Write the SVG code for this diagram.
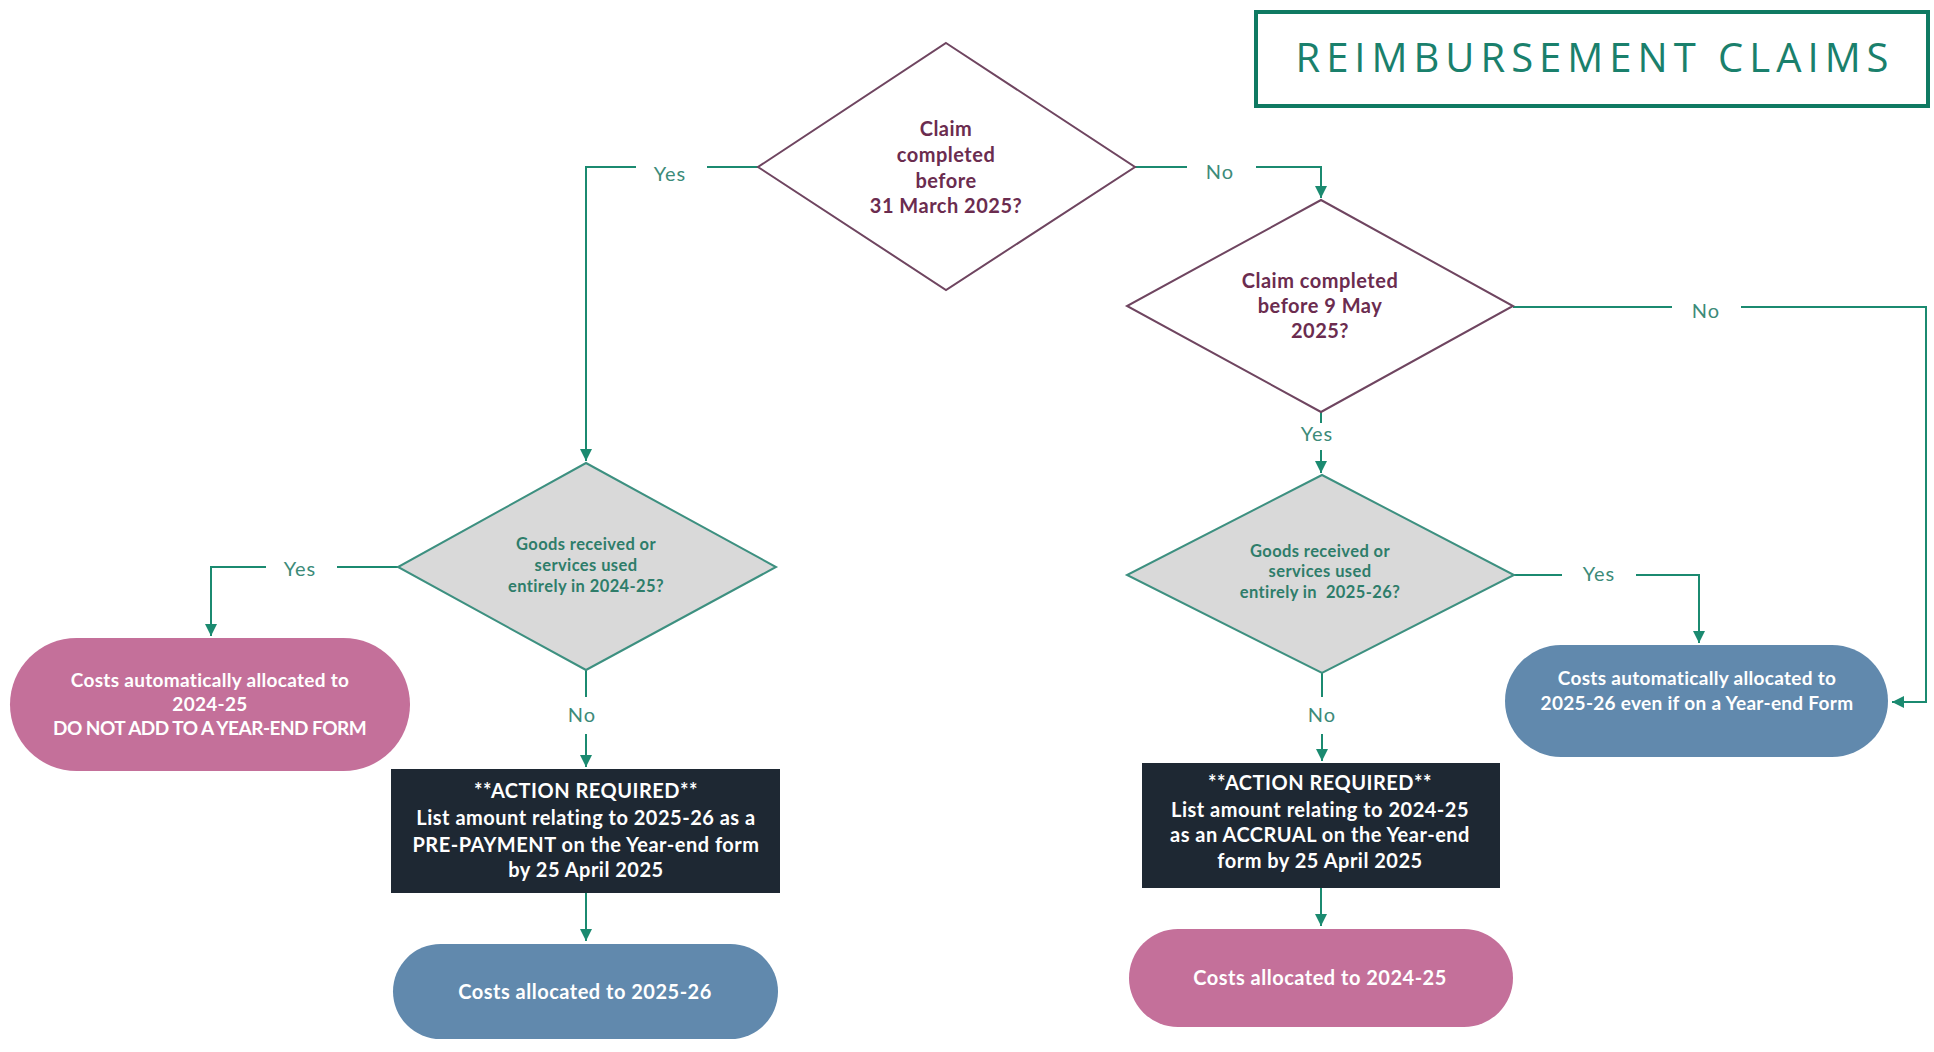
<svg xmlns="http://www.w3.org/2000/svg" width="1934" height="1052" viewBox="0 0 1934 1052">
<defs>
<marker id="arr" viewBox="0 0 10 10" refX="10" refY="5" markerWidth="6" markerHeight="6" orient="auto" markerUnits="strokeWidth">
<path d="M0,0 L10,5 L0,10 z" fill="#1b8a70"/>
</marker>
<style>
.conn{fill:none;stroke:#1b8a70;stroke-width:2}
.lbl{font-family:Lato,"Liberation Sans",sans-serif;font-size:20px;letter-spacing:1px;fill:#3c8b79;text-anchor:middle}
.dq{fill:#ffffff;stroke:#6f4560;stroke-width:2}
.dqt{font-family:Lato,"Liberation Sans",sans-serif;font-weight:bold;font-size:20px;letter-spacing:0.5px;fill:#6b2c4f;text-anchor:middle}
.dg{fill:#d9d9d9;stroke:#3d9080;stroke-width:2}
.dgt{font-family:Lato,"Liberation Sans",sans-serif;font-weight:bold;font-size:16.5px;letter-spacing:0.4px;fill:#2e7d6a;text-anchor:middle}
.pink{fill:#c4709a}
.blue{fill:#6189ad}
.dark{fill:#1e2833}
.wt{font-family:Lato,"Liberation Sans",sans-serif;font-weight:bold;font-size:19px;letter-spacing:0.3px;fill:#ffffff;text-anchor:middle}
.wt2{font-family:Lato,"Liberation Sans",sans-serif;font-weight:bold;font-size:20px;letter-spacing:0.5px;fill:#ffffff;text-anchor:middle}
</style>
</defs>
<rect width="1934" height="1052" fill="#ffffff"/>

<g id="title">
<rect x="1256" y="12" width="672" height="94" fill="#ffffff" stroke="#0f7a62" stroke-width="4"/>
<text x="1595" y="72" font-family="'Open Sans','Liberation Sans',sans-serif" font-size="40" letter-spacing="6" fill="#1a806c" text-anchor="middle">REIMBURSEMENT CLAIMS</text>
</g>

<g id="connectors">
<path class="conn" d="M758,167 H707"/>
<path class="conn" d="M636,167 H586 V461" marker-end="url(#arr)"/>
<path class="conn" d="M1135,167 H1187"/>
<path class="conn" d="M1256,167 H1321 V198" marker-end="url(#arr)"/>
<path class="conn" d="M1513,307 H1672"/>
<path class="conn" d="M1741,307 H1926 V702 H1892" marker-end="url(#arr)"/>
<path class="conn" d="M1321,412 V423"/>
<path class="conn" d="M1321,450 V473" marker-end="url(#arr)"/>
<path class="conn" d="M398,567 H337"/>
<path class="conn" d="M266,567 H211 V636" marker-end="url(#arr)"/>
<path class="conn" d="M586,670 V697"/>
<path class="conn" d="M586,734 V767" marker-end="url(#arr)"/>
<path class="conn" d="M1514,575 H1562"/>
<path class="conn" d="M1636,575 H1699 V643" marker-end="url(#arr)"/>
<path class="conn" d="M1322,673 V697"/>
<path class="conn" d="M1322,734 V761" marker-end="url(#arr)"/>
<path class="conn" d="M586,893 V941" marker-end="url(#arr)"/>
<path class="conn" d="M1321,888 V926" marker-end="url(#arr)"/>
<text class="lbl" x="670" y="181">Yes</text>
<text class="lbl" x="1220" y="179">No</text>
<text class="lbl" x="1706" y="318">No</text>
<text class="lbl" x="1317" y="441">Yes</text>
<text class="lbl" x="300" y="576">Yes</text>
<text class="lbl" x="582" y="722">No</text>
<text class="lbl" x="1322" y="722">No</text>
<text class="lbl" x="1599" y="581">Yes</text>
</g>

<g id="q1">
<polygon class="dq" points="946,43 1135,167 946,290 758,167"/>
<text class="dqt" x="946" y="136">Claim</text>
<text class="dqt" x="946" y="162">completed</text>
<text class="dqt" x="946" y="188">before</text>
<text class="dqt" x="946" y="213">31 March 2025?</text>
</g>

<g id="q2">
<polygon class="dq" points="1321,200 1513,306 1321,412 1127,306"/>
<text class="dqt" x="1320" y="288">Claim completed</text>
<text class="dqt" x="1320" y="313">before 9 May</text>
<text class="dqt" x="1320" y="338">2025?</text>
</g>

<g id="q3">
<polygon class="dg" points="586,463 776,567 586,670 398,567"/>
<text class="dgt" x="586" y="550">Goods received or</text>
<text class="dgt" x="586" y="571">services used</text>
<text class="dgt" x="586" y="592">entirely in 2024-25?</text>
</g>

<g id="q4">
<polygon class="dg" points="1322,475 1514,575 1322,673 1127,575"/>
<text class="dgt" x="1320" y="557">Goods received or</text>
<text class="dgt" x="1320" y="577">services used</text>
<text class="dgt" x="1320" y="598" xml:space="preserve">entirely in  2025-26?</text>
</g>

<g id="t1">
<rect class="pink" x="10" y="638" width="400" height="133" rx="66.5"/>
<text class="wt" x="210" y="687">Costs automatically allocated to</text>
<text class="wt" x="210" y="711">2024-25</text>
<text class="wt" x="210" y="735" textLength="314">DO NOT ADD TO A YEAR-END FORM</text>
</g>

<g id="a1">
<rect class="dark" x="391" y="769" width="389" height="124"/>
<text class="wt2" x="586" y="798">**ACTION REQUIRED**</text>
<text class="wt2" x="586" y="825">List amount relating to 2025-26 as a</text>
<text class="wt2" x="586" y="852">PRE-PAYMENT on the Year-end form</text>
<text class="wt2" x="586" y="877">by 25 April 2025</text>
</g>

<g id="t2">
<rect class="blue" x="393" y="944" width="385" height="95" rx="47.5"/>
<text class="wt2" x="585" y="999">Costs allocated to 2025-26</text>
</g>

<g id="a2">
<rect class="dark" x="1142" y="763" width="358" height="125"/>
<text class="wt2" x="1320" y="790">**ACTION REQUIRED**</text>
<text class="wt2" x="1320" y="817">List amount relating to 2024-25</text>
<text class="wt2" x="1320" y="842">as an ACCRUAL on the Year-end</text>
<text class="wt2" x="1320" y="868">form by 25 April 2025</text>
</g>

<g id="t3">
<rect class="pink" x="1129" y="929" width="384" height="98" rx="49"/>
<text class="wt2" x="1320" y="985">Costs allocated to 2024-25</text>
</g>

<g id="t4">
<rect class="blue" x="1505" y="645" width="383" height="112" rx="56"/>
<text class="wt" x="1697" y="685">Costs automatically allocated to</text>
<text class="wt" x="1697" y="710">2025-26 even if on a Year-end Form</text>
</g>
</svg>
